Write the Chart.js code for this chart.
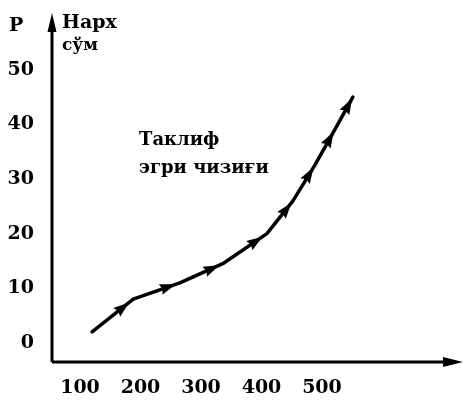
<!DOCTYPE html>
<html><head><meta charset="utf-8">
<script src="https://cdn.jsdelivr.net/npm/chart.js@4"></script>
<style>html,body{margin:0;padding:0;background:#fff;}#wrap{width:463px;height:400px;}</style>
</head><body><div id="wrap"><canvas id="c" width="463" height="400"></canvas></div>
<script>
// Supply curve (quantity -> price)
const quantities = [120, 188, 265, 336, 409, 452, 488, 521, 551];
const prices     = [2, 8, 11, 14.5, 20, 26, 32.5, 39, 45];
const xTickValues = [100, 200, 300, 400, 500];
const yTickValues = [0, 10, 20, 30, 40, 50];
const curveLabel = ['Таклиф', 'эгри чизиғи'];
const yAxisTitle = ['Нарх', 'сўм'];
const yAxisLetter = 'P';

const SERIF = '"DejaVu Serif", "Liberation Serif", serif';

function drawHead(ctx, x, y, ang, len, half) {
  const c = Math.cos(ang), s = Math.sin(ang);
  const tx = x + c * len / 2, ty = y + s * len / 2;
  const bx = x - c * len / 2, by = y - s * len / 2;
  ctx.beginPath();
  ctx.moveTo(tx, ty);
  ctx.lineTo(bx - s * half, by + c * half);
  ctx.lineTo(bx + c * 2, by + s * 2);
  ctx.lineTo(bx + s * half, by - c * half);
  ctx.closePath();
  ctx.fill();
}

const decor = {
  id: 'decor',
  beforeDatasetsDraw(chart) {
    const ctx = chart.ctx, a = chart.chartArea;
    ctx.save();
    ctx.strokeStyle = '#000'; ctx.fillStyle = '#000';
    ctx.lineWidth = 3;
    // axes
    ctx.beginPath();
    ctx.moveTo(a.left, a.bottom); ctx.lineTo(a.left, a.top + 10);
    ctx.moveTo(a.left, a.bottom); ctx.lineTo(a.right - 10, a.bottom);
    ctx.stroke();
    // axis arrowheads
    ctx.beginPath();
    ctx.moveTo(a.left, a.top); ctx.lineTo(a.left - 4.5, a.top + 19); ctx.lineTo(a.left + 4.5, a.top + 19); ctx.closePath(); ctx.fill();
    ctx.beginPath();
    ctx.moveTo(a.right + 2, a.bottom); ctx.lineTo(a.right - 18, a.bottom - 5); ctx.lineTo(a.right - 18, a.bottom + 5); ctx.closePath(); ctx.fill();
    // texts
    ctx.textBaseline = 'alphabetic';
    ctx.textAlign = 'left';
    ctx.font = 'bold 19px ' + SERIF;
    ctx.fillText(yAxisLetter, 9, 31);
    ctx.fillText(yAxisTitle[0], 62, 28);
    ctx.font = 'bold 17px ' + SERIF;
    ctx.fillText(yAxisTitle[1], 62, 50);
    ctx.font = 'bold 18px ' + SERIF;
    ctx.fillText(curveLabel[0], 139, 145);
    ctx.fillText(curveLabel[1], 139, 173);
    ctx.restore();
  },
  afterDatasetsDraw(chart) {
    const ctx = chart.ctx, xs = chart.scales.x, ys = chart.scales.y;
    const pts = quantities.map((q, i) => ({ x: xs.getPixelForValue(q), y: ys.getPixelForValue(prices[i]) }));
    ctx.save();
    ctx.fillStyle = '#000';
    for (let i = 0; i < pts.length - 1; i++) {
      const p = pts[i], q = pts[i + 1];
      const t = 0.75;
      const ang = Math.atan2(q.y - p.y, q.x - p.x);
      drawHead(ctx, p.x + (q.x - p.x) * t, p.y + (q.y - p.y) * t, ang, 16, 5.5);
    }
    ctx.restore();
  }
};

new Chart(document.getElementById('c'), {
  type: 'line',
  data: {
    datasets: [{
      data: quantities.map((q, i) => ({ x: q, y: prices[i] })),
      borderColor: '#000',
      borderWidth: 3.5,
      pointRadius: 0,
      tension: 0,
      borderCapStyle: 'round',
      borderJoinStyle: 'round',
      fill: false
    }]
  },
  options: {
    responsive: false,
    animation: false,
    devicePixelRatio: 1,
    layout: { padding: { left: 0, top: 13, right: 2, bottom: 0 } },
    plugins: { legend: { display: false }, tooltip: { enabled: false } },
    scales: {
      x: {
        type: 'linear', min: 53.7, max: 729.8,
        afterBuildTicks: s => { s.ticks = xTickValues.map(v => ({ value: v })); },
        afterFit: s => { s.height = 38; s.paddingLeft = 0; s.paddingRight = 0; },
        grid: { display: false, drawTicks: false },
        border: { display: false },
        ticks: { color: '#000', padding: 15, font: { family: SERIF, weight: 'bold', size: 19 }, maxRotation: 0, autoSkip: false }
      },
      y: {
        type: 'linear', min: -3.5, max: 60.4,
        afterBuildTicks: s => { s.ticks = yTickValues.map(v => ({ value: v })); },
        afterFit: s => { s.width = 52; s.paddingTop = 0; s.paddingBottom = 0; },
        grid: { display: false, drawTicks: false },
        border: { display: false },
        ticks: { color: '#000', padding: 18, font: { family: SERIF, weight: 'bold', size: 19 }, autoSkip: false }
      }
    }
  },
  plugins: [decor]
});
</script>
</body></html>
